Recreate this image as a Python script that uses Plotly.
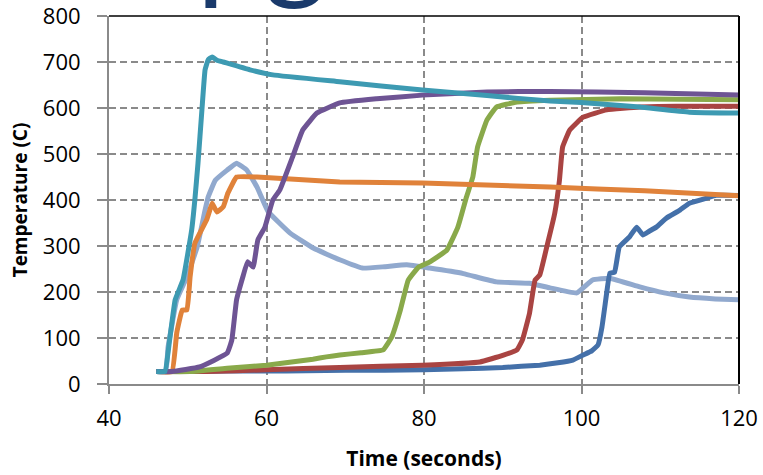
import plotly.graph_objects as go

# ---- data ----
blue_x = [46, 50, 55, 60, 65, 70, 75, 80, 85, 90, 94.7, 97, 98.9, 100.2, 101.3, 102.1, 102.6, 103.2, 103.6, 104.2,
          104.8, 106.1, 107, 107.8, 108.6, 109.5, 110.8, 112.5, 113.7, 115.9, 117.1, 120]
blue_y = [27, 27, 28, 28, 29, 30, 30, 31, 33, 36, 41, 46, 52, 63, 72, 85, 124, 198, 241, 243,
          298, 320, 341, 324, 332, 341, 361, 378, 393, 404, 410, 410]

red_x = [46, 52.4, 60, 69.3, 79.8, 87.1, 90, 91.8, 92.5, 93.4, 94.1, 94.7, 95.7, 96.6, 97.2, 97.6, 98.5,
         100.2, 103.2, 107.4, 112, 120]
red_y = [27, 27, 31, 36, 41, 48, 62, 74, 96, 154, 226, 237, 306, 371, 443, 515, 552,
         580, 596, 602, 604, 604]

green_x = [46, 50.3, 55, 60, 65.9, 67.6, 69.3, 72, 74.8, 75.9, 77, 78, 79.3, 80.7, 82.9, 84.3, 85.4, 86.2,
           86.8, 88, 89.2, 91.8, 96, 105, 120]
green_y = [27, 27, 34, 41, 54, 59, 63, 68, 74, 102, 161, 226, 254, 265, 291, 341, 407, 450,
           515, 574, 602, 613, 617, 620, 618]

purple_x = [46, 48, 51.5, 55, 55.6, 56.2, 57.0, 57.6, 58.3, 58.9, 59.8, 60.8, 61.7, 63.3, 64.6, 66.4, 69.3,
            74, 79.8, 88, 96, 108, 120]
purple_y = [27, 27, 37, 67, 96, 183, 233, 266, 254, 313, 341, 400, 422, 493, 552, 589, 611,
            620, 628, 635, 636, 633, 628]

teal_x = [46, 47.1, 47.7, 48.4, 49.4, 50.5, 50.9, 51.3, 51.8, 52.2, 52.6, 53.1, 53.7, 54.5, 57.9, 60.8,
          69.3, 79.8, 88, 96, 100, 107.4, 113.7, 120]
teal_y = [27, 27, 96, 183, 226, 335, 400, 480, 596, 683, 705, 711, 704, 700, 683, 672,
          657, 639, 627, 615, 612, 602, 591, 589]

orange_x = [46, 48, 48.6, 49.3, 49.9, 50.3, 50.9, 52.4, 52.8, 53.1, 53.7, 54.5, 55.1, 56.2, 58.8, 69.3,
            79.8, 96, 108, 120]
orange_y = [27, 27, 111, 161, 161, 233, 306, 357, 378, 393, 374, 385, 415, 450, 450, 439,
            437, 428, 420, 409]

lblue_x = [46, 47.2, 47.5, 48.6, 49.9, 51.2, 52.2, 52.6, 53.5, 55, 56.2, 57.5, 58.8, 60.2, 63, 66, 69.3,
           72.2, 75, 77.8, 80.7, 85, 89.2, 93.4, 96, 99.4, 101.4, 103.6, 107.4, 110.5, 113.7, 117, 120]
lblue_y = [27, 27, 80, 183, 233, 298, 378, 407, 443, 465, 480, 465, 428, 375, 328, 295, 270,
           252, 255, 259, 252, 240, 222, 219, 209, 198, 226, 230, 211, 198, 189, 185, 183]

x_ticks = [40, 60, 80, 100, 120]
y_ticks = [0, 100, 200, 300, 400, 500, 600, 700, 800]

series = [
    (lblue_x, lblue_y, "#91A9CE"),
    (blue_x, blue_y, "#4470A9"),
    (red_x, red_y, "#A94442"),
    (green_x, green_y, "#89A94A"),
    (orange_x, orange_y, "#E0823A"),
    (purple_x, purple_y, "#6E5494"),
    (teal_x, teal_y, "#3D9AB2"),
]

fig = go.Figure()
for xs, ys, col in series:
    fig.add_trace(go.Scatter(x=xs, y=ys, mode="lines",
                             line=dict(color=col, width=5, shape="spline", smoothing=0.3),
                             showlegend=False))

grid = "#8A8A8A"
font = "Open Sans"
axis_common = dict(
    showline=True, linecolor=grid, linewidth=2,
    ticks="outside", tickcolor=grid, tickwidth=2,
    showgrid=True, gridcolor=grid, gridwidth=1.6, griddash="7px,4px",
    zeroline=False, automargin=False, ticklabeloverflow="allow",
    tickfont=dict(family=font, size=22, color="black"),
)

fig.update_xaxes(range=[40, 120], tickvals=x_ticks, ticklen=8, ticklabelstandoff=6,
                 title=dict(text="<b>Time (seconds)</b>", standoff=20,
                            font=dict(family=font, size=21, color="black")),
                 **axis_common)
fig.update_yaxes(range=[0, 800], tickvals=y_ticks, ticklen=10, ticklabelstandoff=12,
                 title=dict(text="<b>Temperature (C)</b>", standoff=10,
                            font=dict(family=font, size=19, color="black")),
                 **axis_common)

# black top & right frame
fig.add_shape(type="line", xref="paper", yref="paper", x0=0, x1=1, y0=1, y1=1,
              line=dict(color="black", width=1.5), layer="above")
fig.add_shape(type="line", xref="paper", yref="paper", x0=1, x1=1, y0=0, y1=1,
              line=dict(color="black", width=2), layer="above")

# cut-off slide title fragment at the very top
fig.add_annotation(text="pg", xref="paper", yref="paper", x=0.137, y=1.002,
                   xanchor="left", yanchor="bottom", showarrow=False,
                   font=dict(family="Lato", size=120, color="#1A3A6B"))

fig.update_layout(
    width=763, height=475,
    margin=dict(l=109, r=24, t=16, b=91),
    paper_bgcolor="white", plot_bgcolor="white",
)

fig.write_html("out.html", config={"displayModeBar": False},
               post_script="document.body.style.margin='0';document.body.style.overflow='hidden';")
